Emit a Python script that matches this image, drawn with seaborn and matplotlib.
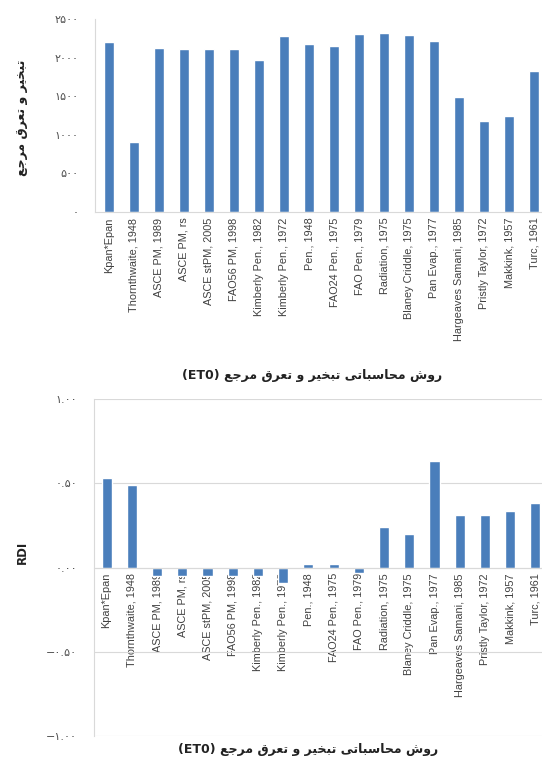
import numpy as np
import matplotlib
matplotlib.use('Agg')
import matplotlib.pyplot as plt
import seaborn as sns

# روش‌ها و مقادیر
methods = ['Kpan*Epan', 'Thornthwaite, 1948', 'ASCE PM, 1989', 'ASCE PM, rs',
           'ASCE stPM, 2005', 'FAO56 PM, 1998', 'Kimberly Pen., 1982',
           'Kimberly Pen., 1972', 'Pen., 1948', 'FAO24 Pen., 1975',
           'FAO Pen., 1979', 'Radiation, 1975', 'Blaney Criddle, 1975',
           'Pan Evap., 1977', 'Hargeaves Samani, 1985', 'Pristly Taylor, 1972',
           'Makkink, 1957', 'Turc, 1961']
et0 = [2198, 903, 2120, 2115, 2110, 2110, 1968, 2279, 2171, 2154,
       2305, 2314, 2296, 2214, 1485, 1174, 1239, 1830]
rdi = [0.53, 0.49, -0.05, -0.05, -0.05, -0.05, -0.05, -0.09, 0.02, 0.02,
       -0.03, 0.24, 0.20, 0.63, 0.31, 0.31, 0.335, 0.38]

et0_ticks = [0, 500, 1000, 1500, 2000, 2500]
et0_ticklabels = ['۰', '۵۰۰', '۱۰۰۰', '۱۵۰۰', '۲۰۰۰', '۲۵۰۰']
rdi_ticks = [-1.0, -0.5, 0.0, 0.5, 1.0]
rdi_ticklabels = ['−۱.۰۰', '−۰.۵۰', '۰.۰۰', '۰.۵۰', '۱.۰۰']

xlabel_fa = 'روش محاسباتی تبخیر و تعرق مرجع'
ylabel_fa = 'تبخیر و تعرق مرجع'

# شکل‌دهی ساده حروف فارسی (matplotlib خودش این کار را نمی‌کند)
FORMS = {
    'ا': ('\uFE8D', '\uFE8E', None, None),
    'ب': ('\uFE8F', '\uFE90', '\uFE91', '\uFE92'),
    'ت': ('\uFE95', '\uFE96', '\uFE97', '\uFE98'),
    'ج': ('\uFE9D', '\uFE9E', '\uFE9F', '\uFEA0'),
    'ح': ('\uFEA1', '\uFEA2', '\uFEA3', '\uFEA4'),
    'خ': ('\uFEA5', '\uFEA6', '\uFEA7', '\uFEA8'),
    'ر': ('\uFEAD', '\uFEAE', None, None),
    'س': ('\uFEB1', '\uFEB2', '\uFEB3', '\uFEB4'),
    'ش': ('\uFEB5', '\uFEB6', '\uFEB7', '\uFEB8'),
    'ع': ('\uFEC9', '\uFECA', '\uFECB', '\uFECC'),
    'ق': ('\uFED5', '\uFED6', '\uFED7', '\uFED8'),
    'م': ('\uFEE1', '\uFEE2', '\uFEE3', '\uFEE4'),
    'و': ('\uFEED', '\uFEEE', None, None),
    'ی': ('\uFEEF', '\uFEF0', '\uFEF3', '\uFEF4'),
}


def fa(text):
    out = []
    for i, c in enumerate(text):
        f = FORMS.get(c)
        if f is None:
            out.append(c)
            continue
        prev = text[i - 1] if i > 0 else None
        nxt = text[i + 1] if i + 1 < len(text) else None
        jp = prev in FORMS and FORMS[prev][2] is not None
        jn = f[2] is not None and nxt in FORMS
        if jp and jn:
            out.append(f[3])
        elif jp:
            out.append(f[1])
        elif jn:
            out.append(f[2])
        else:
            out.append(f[0])
    return ''.join(out)[::-1]


sns.set_style('white')
plt.rcParams['font.family'] = ['DejaVu Sans']

blue = '#4A7EBB'
light = '#d9d9d9'
W, H = 542, 760
fig = plt.figure(figsize=(W / 100, H / 100), dpi=100)

# نمودار بالا
ax1 = fig.add_axes([95 / W, 1 - 212 / H, 452 / W, 193 / H])
sns.barplot(x=methods, y=et0, color=blue, width=0.4, ax=ax1, saturation=1)
ax1.set_xlim(-0.55, 17.5)
ax1.set_ylim(0, 2500)
ax1.set_yticks(et0_ticks)
ax1.set_yticklabels(et0_ticklabels)

# نمودار پایین
ax2 = fig.add_axes([94 / W, 1 - 736 / H, 454 / W, 337 / H])
sns.barplot(x=methods, y=rdi, color=blue, width=0.4, ax=ax2, saturation=1)
ax2.set_xlim(-0.5, 17.5)
ax2.set_ylim(-1, 1)
ax2.set_yticks(rdi_ticks)
ax2.set_yticklabels(rdi_ticklabels)
ax2.yaxis.grid(True, color=light, lw=0.8)
ax2.set_axisbelow(True)
ax2.spines['bottom'].set_position(('data', 0))

for ax in (ax1, ax2):
    sns.despine(ax=ax)
    ax.spines['left'].set_color(light)
    ax.spines['bottom'].set_color(light)
    ax.set_xlabel('')
    ax.set_ylabel('')
    ax.set_xticks(np.arange(-0.5, 18, 1), minor=True)
    ax.tick_params(axis='x', which='major', length=0, pad=4, labelsize=7.8,
                   labelcolor='#404040', labelrotation=90)
    ax.tick_params(axis='x', which='minor', length=3, color=light)
    ax.tick_params(axis='y', length=4, color=light, pad=8, labelsize=8,
                   labelcolor='#505050')
    for t in ax.get_xticklabels():
        t.set_fontfamily('Liberation Sans')

fig.text(22 / W, 1 - 118 / H, fa(ylabel_fa), rotation=90, ha='center', va='center',
         fontsize=9, fontweight='bold', color='#222222')
fig.text(22 / W, 1 - 552 / H, 'RDI', rotation=90, ha='center', va='center',
         fontsize=8.5, fontweight='bold', color='#222222')
fig.text(312 / W, 1 - 375 / H, '(ET0) ' + fa(xlabel_fa), ha='center', va='center',
         fontsize=9, fontweight='bold', color='#222222')
fig.text(308 / W, 1 - 750 / H, '(ET0) ' + fa(xlabel_fa), ha='center', va='center',
         fontsize=9, fontweight='bold', color='#222222')

fig.savefig('out.png', dpi=100)
